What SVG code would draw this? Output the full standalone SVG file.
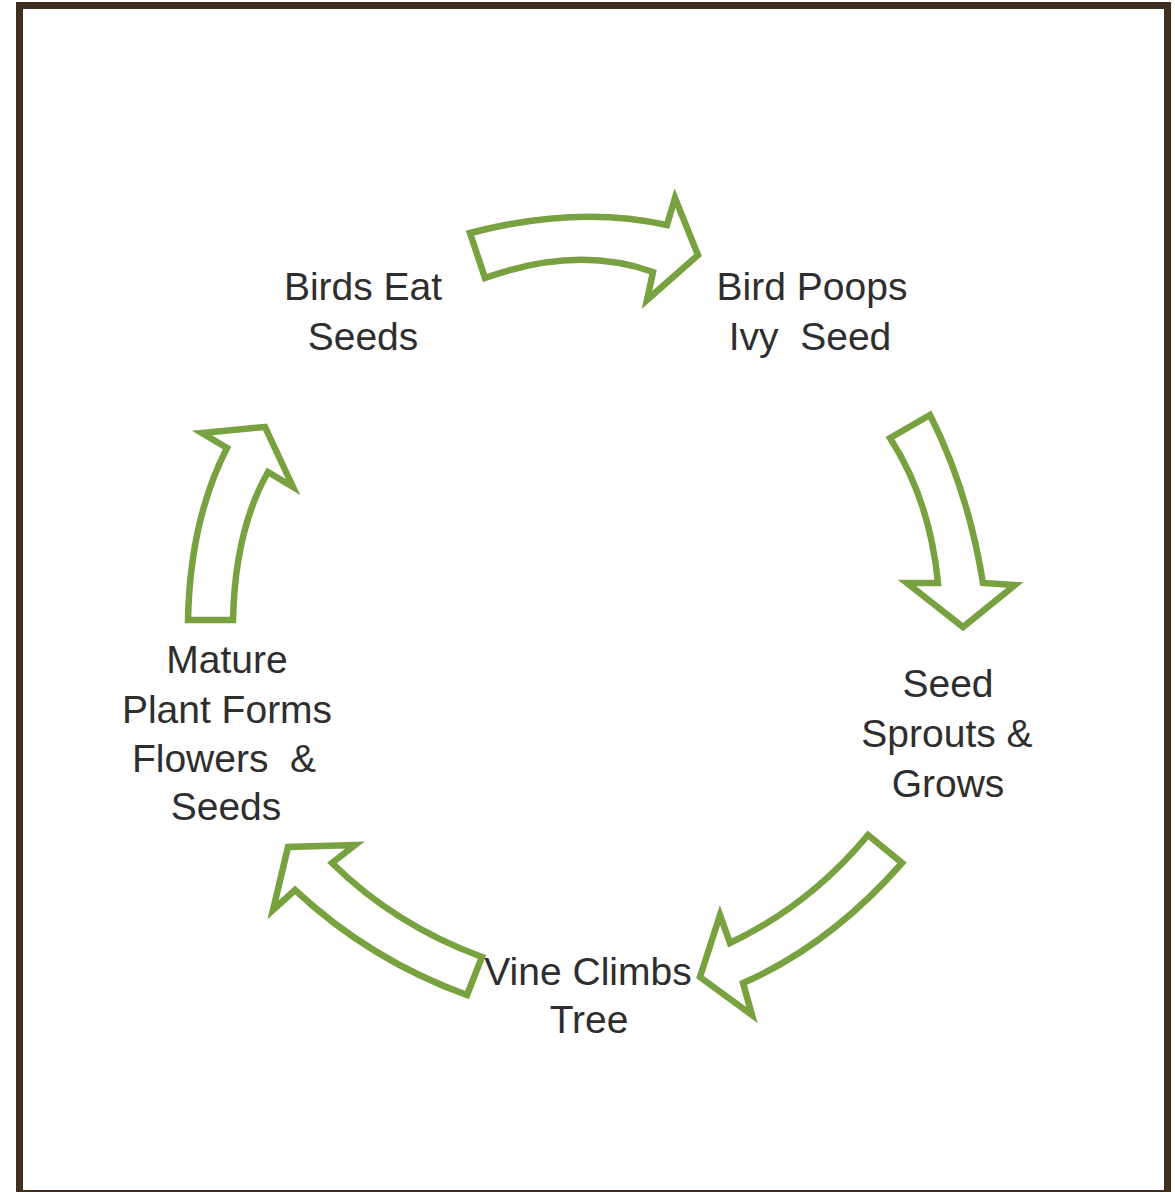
<svg xmlns="http://www.w3.org/2000/svg" width="1175" height="1192" viewBox="0 0 1175 1192">
<style>
.frame{fill:#ffffff;stroke:#3f2f1f;stroke-width:7}
.arrow{fill:#ffffff;stroke:#78a23f;stroke-width:6.5;stroke-linejoin:miter}
.lbl{font-family:"Liberation Sans",Arial,sans-serif;font-size:39px;fill:#2e2e2e;text-anchor:middle}
</style>
<rect class="frame" x="19.5" y="5.5" width="1148" height="1188"/>
<g id="connectors">
<path id="arrow-top" class="arrow" d="M470,233 Q577,205 667,225 L675,198 L698,255 L647,300 L653,272 Q577,245 485,278 Z"/>
<path id="arrow-right" class="arrow" d="M930,415 Q968,490 983,583 L1015,585 L963,627 L907,583 L938,583 Q930,500 890,438 Z"/>
<path id="arrow-lower-right" class="arrow" d="M868,835 L902,863 Q830,945 743,983 L752,1015 L700,977 L720,915 L730,943 Q810,905 868,835 Z"/>
<path id="arrow-lower-left" class="arrow" d="M482,957 Q395,925 332,863 L355,845 L288,847 L273,910 L295,890 Q370,960 467,995 Z"/>
<path id="arrow-left" class="arrow" d="M188,620 L233,620 Q235,530 268,472 L293,487 L265,427 L202,433 L227,448 Q190,520 188,620 Z"/>
</g>
<g id="node-birds-eat"><text class="lbl" x="363" y="300">Birds Eat</text><text class="lbl" x="363" y="350">Seeds</text></g>
<g id="node-bird-poops"><text class="lbl" x="812" y="300">Bird Poops</text><text class="lbl" x="810" y="350" xml:space="preserve">Ivy  Seed</text></g>
<g id="node-seed-sprouts"><text class="lbl" x="948" y="697">Seed</text><text class="lbl" x="947" y="747">Sprouts &amp;</text><text class="lbl" x="948" y="797">Grows</text></g>
<g id="node-vine-climbs"><text class="lbl" x="588" y="985">Vine Climbs</text><text class="lbl" x="589" y="1033">Tree</text></g>
<g id="node-mature-plant"><text class="lbl" x="227" y="673">Mature</text><text class="lbl" x="227" y="723">Plant Forms</text><text class="lbl" x="224" y="772" xml:space="preserve">Flowers  &amp;</text><text class="lbl" x="226" y="820">Seeds</text></g>
</svg>
